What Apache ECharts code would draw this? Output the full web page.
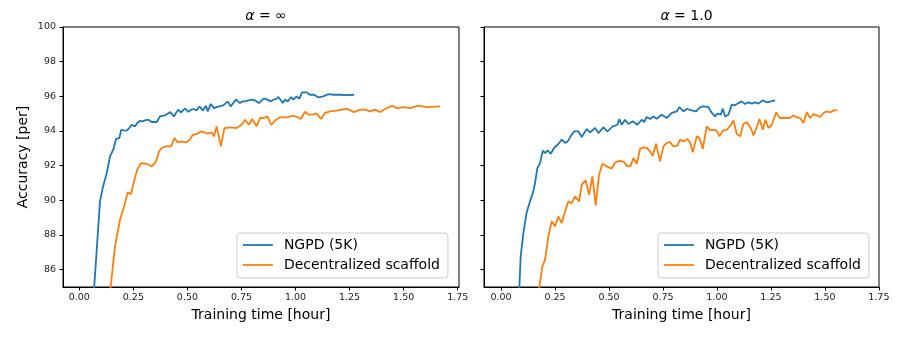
<!DOCTYPE html>
<html>
<head>
<meta charset="utf-8">
<script src="https://cdn.jsdelivr.net/npm/echarts@6/dist/echarts.min.js"></script>
<style>html,body{margin:0;padding:0;background:#fff}#c{width:901px;height:344px}</style>
</head>
<body>
<div id="c"></div>
<script>
const xTicks = [0, 0.25, 0.5, 0.75, 1.0, 1.25, 1.5, 1.75];
const yTicks = [86, 88, 90, 92, 94, 96, 98, 100];
const seriesNames = ['NGPD (5K)', 'Decentralized scaffold'];
const panelTitles = ['∞', '1.0'];

// [training time (hour), accuracy]
const leftNGPD = [[0.0635,84.0],[0.0957,89.94],[0.108,90.71],[0.127,91.57],[0.142,92.54],[0.157,92.92],[0.170,93.54],[0.185,93.59],[0.194,94.07],[0.207,94.04],[0.219,94.02],[0.231,94.17],[0.242,94.36],[0.258,94.27],[0.268,94.46],[0.281,94.59],[0.293,94.56],[0.304,94.61],[0.319,94.65],[0.335,94.52],[0.358,94.52],[0.373,94.84],[0.396,94.90],[0.407,94.98],[0.420,95.09],[0.438,94.84],[0.447,95.04],[0.458,95.23],[0.469,95.07],[0.489,95.29],[0.504,95.11],[0.517,95.23],[0.527,95.27],[0.543,95.19],[0.555,95.42],[0.571,95.19],[0.586,95.46],[0.594,95.13],[0.608,95.56],[0.623,95.32],[0.635,95.38],[0.648,95.42],[0.662,95.46],[0.674,95.56],[0.686,95.71],[0.700,95.42],[0.712,95.61],[0.725,95.81],[0.743,95.61],[0.756,95.71],[0.766,95.71],[0.782,95.77],[0.797,95.81],[0.816,95.75],[0.831,95.61],[0.844,95.77],[0.854,95.88],[0.870,95.81],[0.885,95.71],[0.897,95.81],[0.910,95.84],[0.921,95.96],[0.928,96.04],[0.941,95.61],[0.951,95.81],[0.964,95.71],[0.979,95.96],[0.990,95.81],[1.005,96.00],[1.018,95.86],[1.030,96.23],[1.052,96.23],[1.067,96.09],[1.086,96.09],[1.106,95.94],[1.129,96.00],[1.144,96.09],[1.157,96.13],[1.175,96.09],[1.206,96.09],[1.237,96.07],[1.271,96.09]];

const leftScaffold = [[0.1365,84.0],[0.165,87.34],[0.188,88.88],[0.207,89.65],[0.224,90.46],[0.239,90.36],[0.253,91.09],[0.268,91.77],[0.285,92.15],[0.309,92.11],[0.324,92.04],[0.335,91.96],[0.347,92.11],[0.355,92.25],[0.369,92.82],[0.381,93.02],[0.401,93.11],[0.424,93.11],[0.440,93.59],[0.455,93.34],[0.473,93.40],[0.494,93.34],[0.509,93.46],[0.524,93.77],[0.548,93.85],[0.563,93.98],[0.578,93.92],[0.594,93.85],[0.612,93.92],[0.623,93.69],[0.635,94.27],[0.655,93.11],[0.671,94.17],[0.697,94.21],[0.728,94.17],[0.751,94.36],[0.766,94.65],[0.785,94.36],[0.800,94.69],[0.820,94.27],[0.836,94.75],[0.854,94.75],[0.870,94.84],[0.887,94.36],[0.910,94.65],[0.928,94.79],[0.959,94.79],[0.985,94.88],[1.008,94.81],[1.024,94.69],[1.044,95.11],[1.059,94.94],[1.078,94.94],[1.098,95.00],[1.118,94.69],[1.136,95.04],[1.160,95.13],[1.190,95.17],[1.214,95.23],[1.240,95.27],[1.271,95.09],[1.298,95.23],[1.321,95.23],[1.345,95.13],[1.368,95.23],[1.391,95.09],[1.414,95.27],[1.448,95.46],[1.468,95.32],[1.499,95.38],[1.530,95.32],[1.568,95.46],[1.607,95.38],[1.668,95.42]];

const rightNGPD = [[0.0816,84.0],[0.0911,86.77],[0.1035,88.11],[0.1189,89.31],[0.1344,89.94],[0.1498,90.52],[0.1575,91.00],[0.1683,91.86],[0.1807,92.15],[0.1931,92.86],[0.2039,92.73],[0.2162,92.88],[0.2301,92.69],[0.2456,93.02],[0.2656,93.25],[0.2811,93.50],[0.2965,93.31],[0.3089,93.40],[0.3274,93.79],[0.3398,93.98],[0.3583,93.98],[0.3737,93.65],[0.3969,94.11],[0.4124,93.92],[0.4355,94.17],[0.4510,93.88],[0.4741,94.21],[0.4927,93.98],[0.5174,94.27],[0.5390,94.36],[0.5483,94.69],[0.5591,94.36],[0.5745,94.65],[0.5900,94.40],[0.6100,94.56],[0.6317,94.36],[0.6517,94.65],[0.6626,94.52],[0.6749,94.81],[0.6903,94.69],[0.7058,94.84],[0.7212,94.71],[0.7444,94.94],[0.7676,94.75],[0.7907,95.04],[0.8139,95.13],[0.8263,95.38],[0.8448,95.13],[0.8603,95.27],[0.8834,95.19],[0.9035,95.13],[0.9220,95.38],[0.9375,95.42],[0.9606,95.38],[0.9761,95.04],[0.9915,94.84],[1.0023,95.00],[1.0178,94.94],[1.0270,95.29],[1.0378,94.84],[1.0533,94.94],[1.0687,95.52],[1.0842,95.48],[1.0996,95.61],[1.1151,95.71],[1.1305,95.56],[1.1460,95.65],[1.1614,95.58],[1.1768,95.65],[1.1923,95.58],[1.2124,95.77],[1.2309,95.65],[1.2695,95.77]];

const rightScaffold = [[0.166,84.0],[0.1915,86.19],[0.2039,86.57],[0.2193,87.92],[0.2347,88.79],[0.2502,88.50],[0.2656,89.07],[0.2811,88.69],[0.2965,89.36],[0.3120,89.94],[0.3274,89.84],[0.3429,90.23],[0.3614,89.94],[0.3737,90.90],[0.3923,91.15],[0.4077,90.32],[0.4232,91.38],[0.4386,89.71],[0.4541,91.48],[0.4695,92.11],[0.4896,91.96],[0.5127,91.82],[0.5282,92.19],[0.5513,92.29],[0.5699,92.21],[0.5853,91.96],[0.6008,92.00],[0.6131,92.44],[0.6286,92.11],[0.6440,92.96],[0.6595,93.06],[0.6749,93.02],[0.6903,92.82],[0.7027,92.57],[0.7181,93.27],[0.7367,92.25],[0.7521,93.11],[0.7676,93.31],[0.7830,93.36],[0.7985,93.11],[0.8170,93.15],[0.8293,93.50],[0.8448,93.40],[0.8633,93.54],[0.8757,93.34],[0.8880,92.77],[0.9066,93.69],[0.9189,93.59],[0.9344,92.96],[0.9529,94.27],[0.9684,94.04],[0.9838,94.07],[0.9993,94.02],[1.0116,93.69],[1.0270,94.02],[1.0456,94.07],[1.0641,94.33],[1.0765,94.61],[1.0919,93.83],[1.1073,93.69],[1.1228,94.42],[1.1382,94.50],[1.1568,94.17],[1.1691,93.75],[1.1846,94.23],[1.1969,94.69],[1.2124,94.07],[1.2247,94.65],[1.2386,94.17],[1.2541,94.36],[1.2741,95.07],[1.2927,94.75],[1.3158,94.75],[1.3390,94.75],[1.3544,94.90],[1.3699,94.79],[1.3853,94.75],[1.4008,94.46],[1.4162,95.09],[1.4317,94.75],[1.4471,94.98],[1.4626,94.90],[1.4780,94.81],[1.4935,95.04],[1.5089,95.13],[1.5243,95.07],[1.5398,95.19],[1.5583,95.19]];

const FONT = 'DejaVu Sans';
const BLUE = '#1f77b4', ORANGE = '#ff7f0e';
const chart = echarts.init(document.getElementById('c'), null, {renderer: 'canvas'});

const grids = [
  {left: 63, top: 27, width: 396, height: 260},
  {left: 484, top: 27, width: 395, height: 260}
];
const xRanges = [[-0.0754, 1.756], [-0.0788, 1.7506]];

function xAxis(i) {
  return {
    type: 'value', gridIndex: i, min: xRanges[i][0], max: xRanges[i][1],
    name: 'Training time [hour]', nameLocation: 'middle', nameGap: 21,
    nameTextStyle: {fontFamily: FONT, fontSize: 14, color: '#000'},
    axisLine: {show: true, onZero: false, lineStyle: {color: '#000', width: 1}},
    axisTick: {show: true, length: 3.5, inside: false, customValues: xTicks, lineStyle: {color: '#000'}},
    axisLabel: {show: true, customValues: xTicks, margin: 6, fontFamily: FONT, fontSize: 9.5, color: '#222',
      formatter: v => v.toFixed(2)},
    splitLine: {show: false}
  };
}
function yAxis(i) {
  return {
    type: 'value', gridIndex: i, min: 85, max: 100,
    name: i === 0 ? 'Accuracy [per]' : '', nameLocation: 'middle', nameGap: 33,
    nameTextStyle: {fontFamily: FONT, fontSize: 14, color: '#000'},
    axisLine: {show: true, onZero: false, lineStyle: {color: '#000', width: 1}},
    axisTick: {show: true, length: 3.5, inside: false, customValues: yTicks, lineStyle: {color: '#000'}},
    axisLabel: {show: i === 0, customValues: yTicks, margin: 7, fontFamily: FONT, fontSize: 9.5, color: '#222',
      formatter: v => String(Math.round(v))},
    splitLine: {show: false}
  };
}
function line(name, data, color, i) {
  return {
    type: 'line', name: name, xAxisIndex: i, yAxisIndex: i, data: data,
    symbol: 'none', showSymbol: false, clip: true, animation: false,
    lineStyle: {color: color, width: 1.8}, itemStyle: {color: color}
  };
}
function legend(left) {
  return {
    left: left, top: 233, orient: 'vertical', data: seriesNames,
    itemWidth: 30, itemHeight: 14, itemGap: 6,
    padding: [5, 8, 6, 5],
    borderColor: '#cccccc', borderWidth: 1, borderRadius: 3,
    backgroundColor: 'rgba(255,255,255,0.8)',
    selectedMode: false,
    itemStyle: {opacity: 0, borderWidth: 0},
    lineStyle: {width: 1.8},
    textStyle: {fontFamily: FONT, fontSize: 14, color: '#000', padding: [0, 0, 0, 6]}
  };
}

chart.setOption({
  animation: false,
  backgroundColor: '#fff',
  grid: grids.map(g => Object.assign({show: true, borderColor: '#000', borderWidth: 1, backgroundColor: 'transparent', outerBoundsMode: 'none'}, g)),
  xAxis: [xAxis(0), xAxis(1)],
  yAxis: [yAxis(0), yAxis(1)],
  title: [0, 1].map(i => ({
    text: '{a|α} {b|= ' + panelTitles[i] + '}',
    left: grids[i].left + grids[i].width / 2, top: 4, textAlign: 'center',
    textStyle: {fontWeight: 'normal', fontSize: 14, fontFamily: FONT, color: '#000', rich: {
      a: {fontFamily: FONT, fontStyle: 'italic', fontWeight: 'normal', fontSize: 14, color: '#000'},
      b: {fontFamily: FONT, fontWeight: 'normal', fontSize: 14, color: '#000'}
    }}
  })),
  legend: [legend(237), legend(658)],
  series: [
    line(seriesNames[0], leftNGPD, BLUE, 0),
    line(seriesNames[1], leftScaffold, ORANGE, 0),
    line(seriesNames[0], rightNGPD, BLUE, 1),
    line(seriesNames[1], rightScaffold, ORANGE, 1)
  ]
});
</script>
</body>
</html>
